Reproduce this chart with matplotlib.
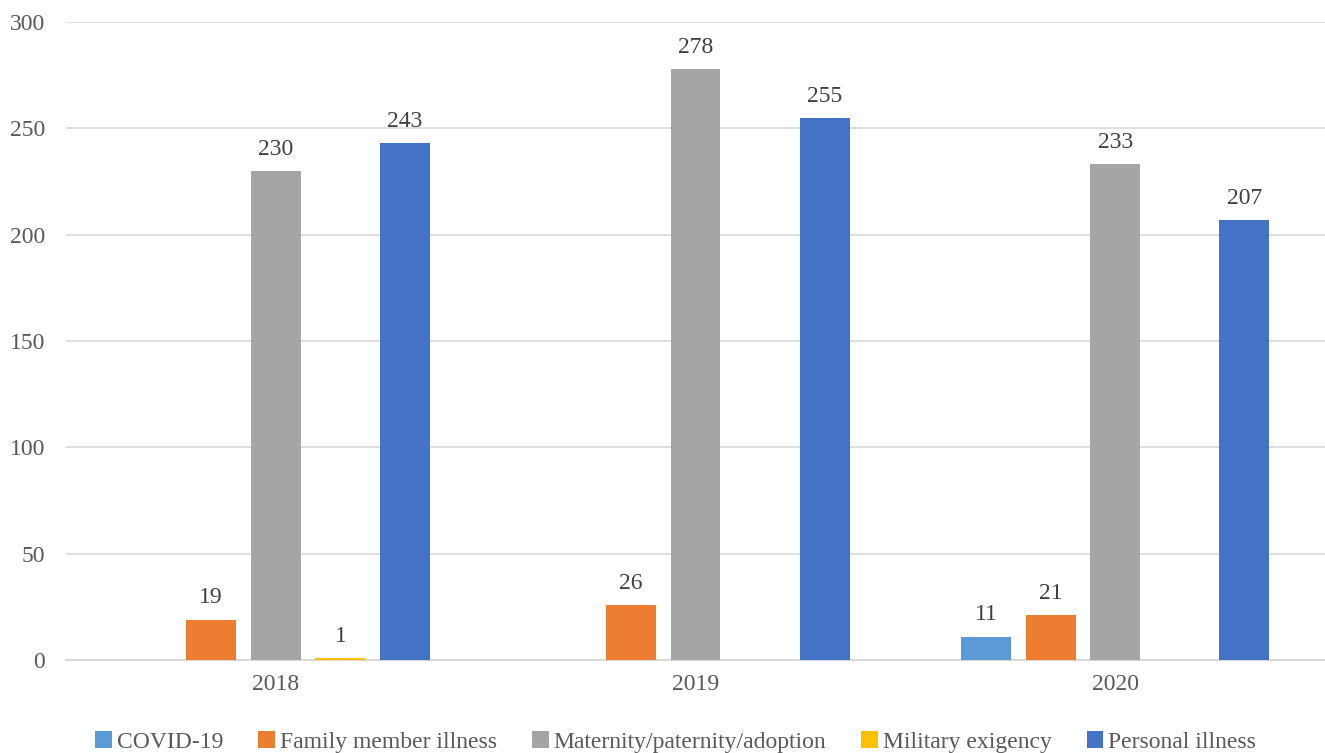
import numpy as np
import matplotlib.pyplot as plt

plt.rcParams['font.family'] = ['Liberation Serif', 'DejaVu Serif']

years = ['2018', '2019', '2020']
series = ['COVID-19', 'Family member illness', 'Maternity/paternity/adoption',
          'Military exigency', 'Personal illness']
covid = [np.nan, np.nan, 11]
family = [19, 26, 21]
maternity = [230, 278, 233]
military = [1, np.nan, np.nan]
personal = [243, 255, 207]
colors = ['#5B9BD5', '#ED7D31', '#A5A5A5', '#FFC000', '#4472C4']

fig = plt.figure(figsize=(13.25, 7.53), dpi=100)
ax = fig.add_axes([0.0498, 0.1235, 0.9502, 0.8473])

x = np.arange(len(years))
step = 0.154
width = 0.119
for i, (name, vals, c) in enumerate(zip(series, [covid, family, maternity, military, personal], colors)):
    pos = x + (i - 2) * step
    ax.bar(pos, vals, width, color=c, label=name, zorder=3)
    for p, v in zip(pos, vals):
        if not np.isnan(v):
            ax.annotate(f'{v:g}', (p, v), xytext=(0, 8), textcoords='offset points',
                        ha='center', va='bottom', fontsize=17, color='#404040')

ax.set_xlim(-0.5, 2.5)
ax.set_ylim(0, 300)
ax.set_yticks(range(0, 301, 50))
ax.set_xticks(x)
ax.set_xticklabels(years)
ax.tick_params(length=0, labelsize=17, labelcolor='#595959')
ax.tick_params(axis='x', pad=10)
ax.tick_params(axis='y', pad=15)
ax.grid(axis='y', color='#D9D9D9', linewidth=1.2, zorder=0)
for s in ['top', 'right', 'left']:
    ax.spines[s].set_visible(False)
ax.spines['bottom'].set_color('#D9D9D9')
ax.spines['bottom'].set_linewidth(1.5)

fig.legend(loc='lower center', bbox_to_anchor=(0.51, -0.028), ncol=5, frameon=False,
           fontsize=17, handlelength=0.7, handleheight=0.7, handletextpad=0.2,
           columnspacing=1.5, labelcolor='#595959')

fig.savefig('out.png', dpi=100)
